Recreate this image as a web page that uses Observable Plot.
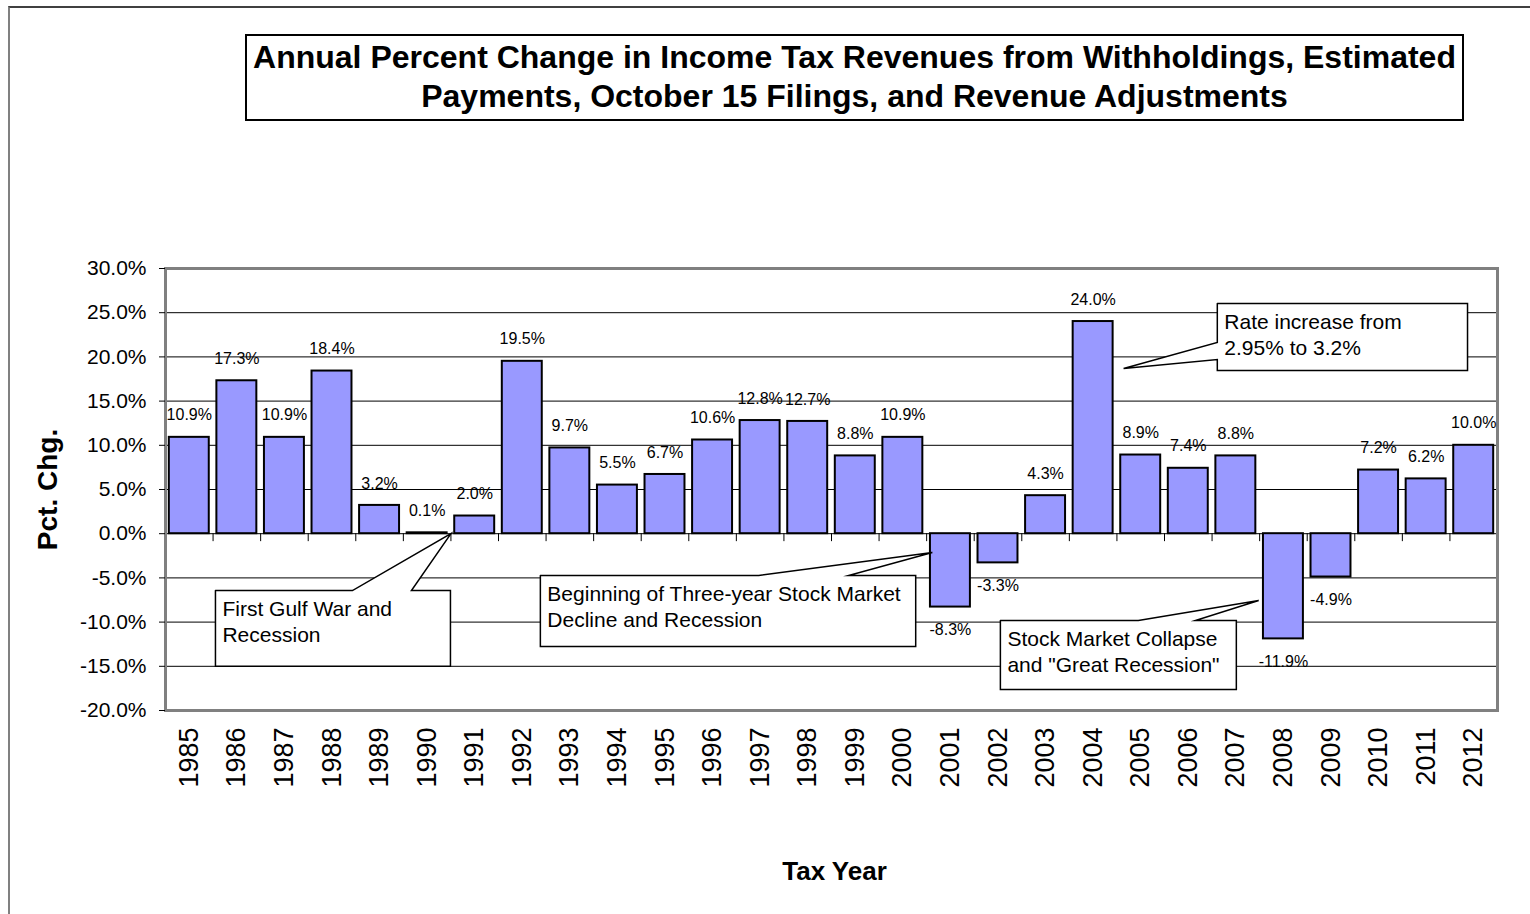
<!DOCTYPE html>
<html><head><meta charset="utf-8">
<script src="https://cdn.jsdelivr.net/npm/d3@7"></script>
<script src="https://cdn.jsdelivr.net/npm/@observablehq/plot@0.6"></script>
<style>
html,body{margin:0;padding:0;background:#fff;}
body{font-family:"Liberation Sans",Arial,sans-serif;}
#page{position:relative;width:1530px;height:914px;overflow:hidden;}
#frame{position:absolute;left:8px;top:6px;width:1600px;height:1000px;border-left:2px solid #808080;border-top:2px solid #404040;pointer-events:none;}
#titlearea{position:relative;height:130px;}
#title{position:absolute;left:245px;top:34px;border:2px solid #000;
  text-align:center;font-weight:bold;font-size:32px;line-height:39px;padding-top:2px;box-sizing:border-box;width:1219px;height:87px;color:#000;white-space:nowrap;}
#chart svg{display:block;}
</style>
</head>
<body>
<div id="page">
  <div id="titlearea"><div id="title">Annual Percent Change in Income Tax Revenues from Withholdings, Estimated<br>Payments, October 15 Filings, and Revenue Adjustments</div></div>
  <div id="chart"></div>
  <div id="frame"></div>
</div>
<script>
const years = [1985,1986,1987,1988,1989,1990,1991,1992,1993,1994,1995,1996,1997,1998,1999,2000,2001,2002,2003,2004,2005,2006,2007,2008,2009,2010,2011,2012];
const pctChange = [10.9,17.3,10.9,18.4,3.2,0.1,2.0,19.5,9.7,5.5,6.7,10.6,12.8,12.7,8.8,10.9,-8.3,-3.3,4.3,24.0,8.9,7.4,8.8,-11.9,-4.9,7.2,6.2,10.0];
const yTicks = [-20,-15,-10,-5,0,5,10,15,20,25,30];

// Callout annotations (in band-index / percent units)
const calloutTexts = ["First Gulf War and\nRecession", "Beginning of Three-year Stock Market\nDecline and Recession", "Stock Market Collapse\nand \"Great Recession\"", "Rate increase from\n2.95% to 3.2%"];
const calloutBoxes = [[1.05,5.99,-6.43,-14.99],[7.88,15.77,-4.73,-12.76],[17.55,22.51,-9.82,-17.62],[22.11,27.37,26.04,18.46]];
const calloutTips = [[6.0,0],[16.12,-2.13],[22.98,-7.56],[20.14,18.69]];
const calloutBases = [[3.93,5.17],[12.47,14.36],[20.45,21.65],[21.63,19.71]];
const calloutSides = ["top","top","top","left"];

const data = years.map((year,i)=>({year, i, value: pctChange[i]}));

const calloutPts = [];
const calloutLabels = [];
calloutTexts.forEach((t,k)=>{
  const [L,R,T,B] = calloutBoxes[k];
  const tip = calloutTips[k], base = calloutBases[k];
  let pts;
  if (calloutSides[k]==="top") {
    pts = [[L,T],[base[0],T],tip,[base[1],T],[R,T],[R,B],[L,B],[L,T]];
  } else {
    pts = [[L,T],[R,T],[R,B],[L,B],[L,base[1]],tip,[L,base[0]],[L,T]];
  }
  pts.forEach(p=>calloutPts.push({id:k, x:p[0], y:p[1]}));
  calloutLabels.push({x:L, y:T, text:t});
});

const font = "Liberation Sans, Arial, sans-serif";
const chart = Plot.plot({
  width: 1530,
  height: 784,
  marginLeft: 165,
  marginRight: 33,
  marginTop: 138,
  marginBottom: 204,
  style: {fontFamily: font, color:"#000", background:"transparent"},
  x: {type:"linear", domain:[0,28], axis:null},
  y: {domain:[-20,30], axis:null},
  marks: [
    Plot.ruleY(yTicks, {stroke:"#000", strokeWidth:1}),
    Plot.rect(data, {x1: d=>d.i+0.08, x2: d=>d.i+0.92, y1: 0, y2: "value", fill:"#9999ff", stroke:"#000", strokeWidth:2}),
    Plot.ruleX(d3.range(1,28), {x: d=>d, y1: 0, y2: -0.9, stroke:"#000", strokeWidth:1}),
    Plot.frame({stroke:"#808080", strokeWidth:3}),
    Plot.axisY({ticks: yTicks, tickFormat: d=>d.toFixed(1)+"%", tickSize:6, tickPadding:13, fontSize:21, label:null, stroke:"#000", strokeWidth:1}),
    Plot.text(data.filter(d=>d.value>=0), {x: d=>d.i+0.5, y:"value", text: d=>d.value.toFixed(1)+"%", dy:-22, fontSize:16, fill:"#000"}),
    Plot.text(data.filter(d=>d.value<0), {x: d=>d.i+0.5, y:"value", text: d=>d.value.toFixed(1)+"%", dy:23, fontSize:16, fill:"#000"}),
    Plot.text(data, {x: d=>d.i+0.5, frameAnchor:"bottom", text: d=>String(d.year), rotate:-90, textAnchor:"end", lineAnchor:"middle", dy:17, fontSize:27, fill:"#000"}),
    Plot.text(["Pct. Chg."], {frameAnchor:"left", rotate:-90, textAnchor:"middle", lineAnchor:"middle", dx:-117, fontSize:28, fontWeight:"bold", fill:"#000"}),
    Plot.text(["Tax Year"], {frameAnchor:"bottom", textAnchor:"middle", lineAnchor:"middle", dx:3, dy:161, fontSize:26, fontWeight:"bold", fill:"#000"}),
    Plot.line(calloutPts, {x:"x", y:"y", z:"id", fill:"white", stroke:"#000", strokeWidth:1.5, strokeLinejoin:"miter", strokeMiterlimit:10, curve:"linear"}),
    Plot.text(calloutLabels, {x:"x", y:"y", text:"text", textAnchor:"start", lineAnchor:"top", dx:7, dy:7, fontSize:21, lineHeight:1.24, fill:"#000"})
  ]
});
document.getElementById("chart").appendChild(chart);
</script>
</body></html>
